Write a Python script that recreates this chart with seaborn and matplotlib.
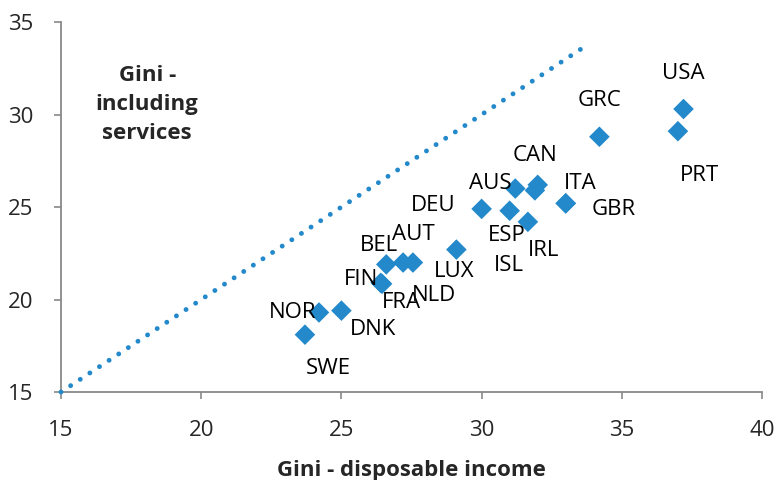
import matplotlib
matplotlib.use("Agg")
import matplotlib.pyplot as plt
import seaborn as sns
import pandas as pd

countries = ["SWE", "NOR", "DNK", "FIN", "FRA", "BEL", "NLD", "AUT", "LUX", "DEU",
             "ESP", "IRL", "AUS", "CAN", "ISL", "ITA", "GBR", "GRC", "USA", "PRT"]
gini_disposable = [23.7, 24.2, 25.0, 26.4, 26.45, 26.6, 27.2, 27.55, 29.1, 30.0,
                   31.0, 31.65, 31.2, 32.0, 31.9, 33.0, 33.0, 34.2, 37.2, 37.0]
gini_services = [18.1, 19.3, 19.4, 20.9, 20.85, 21.9, 22.0, 22.0, 22.7, 24.9,
                 24.8, 24.2, 26.0, 26.2, 25.9, 25.2, 25.2, 28.8, 30.3, 29.1]
diag_x = [15, 33.8]
diag_y = [15, 33.8]
x_ticks = [15, 20, 25, 30, 35, 40]
y_ticks = [15, 20, 25, 30, 35]

# label offsets in pixels (dx right, dy down)
label_offsets = {
    "SWE": (23, 34), "NOR": (-26, 0), "DNK": (32, 19), "FIN": (-20, -3),
    "FRA": (19, 19), "BEL": (-7, -19), "NLD": (31, 33), "AUT": (0, -28),
    "LUX": (-2, 22), "DEU": (-48, -3), "ESP": (-3, 25), "IRL": (16, 29),
    "AUS": (-25, -5), "CAN": (-3, -29), "ISL": (-26, 75), "ITA": (15, -20),
    "GBR": (48, 6), "GRC": (0, -36), "USA": (0, -36), "PRT": (22, 44),
}

df = pd.DataFrame({"country": countries, "x": gini_disposable, "y": gini_services})
diag = pd.DataFrame({"x": diag_x, "y": diag_y})

sns.set_style("white")
plt.rcParams["font.family"] = ["Open Sans", "DejaVu Sans"]

fig = plt.figure(figsize=(7.76, 4.8), dpi=100)
ax = fig.add_axes([0.0786, 0.1833, 0.9034, 0.7707])

blue = "#2389CA"
ax.plot(diag["x"], diag["y"], color=blue, linewidth=3.5,
        linestyle=(0, (0.01, 2.36)), dash_capstyle="round", zorder=2.6, clip_on=False)
sns.scatterplot(data=df, x="x", y="y", marker="D", s=110, color=blue,
                edgecolor="none", ax=ax, zorder=3)

pt = 72 / 100
for c, xv, yv in zip(countries, gini_disposable, gini_services):
    dx, dy = label_offsets[c]
    ax.annotate(c, (xv, yv), xytext=(dx * pt, -dy * pt), textcoords="offset points",
                ha="center", va="center", fontsize=16, color="black")

ax.text(0.123, 0.776, "Gini -\nincluding\nservices", transform=ax.transAxes,
        ha="center", va="center", fontsize=16, fontweight="bold", linespacing=1.5)

ax.set_xlim(15, 40)
ax.set_ylim(15, 35)
ax.set_xticks(x_ticks)
ax.set_yticks(y_ticks)
ax.set_xlabel("Gini - disposable income", fontsize=16, fontweight="bold", labelpad=14)
ax.set_ylabel("")
ax.tick_params(axis="both", labelsize=16, length=5, width=1.2, color="#898989",
               direction="out", bottom=True, left=True)
ax.tick_params(axis="x", pad=15)
ax.tick_params(axis="y", pad=15)
for s in ["top", "right"]:
    ax.spines[s].set_visible(False)
for s in ["left", "bottom"]:
    ax.spines[s].set_color("#898989")
    ax.spines[s].set_linewidth(1.3)

fig.savefig("out.png", dpi=100)
